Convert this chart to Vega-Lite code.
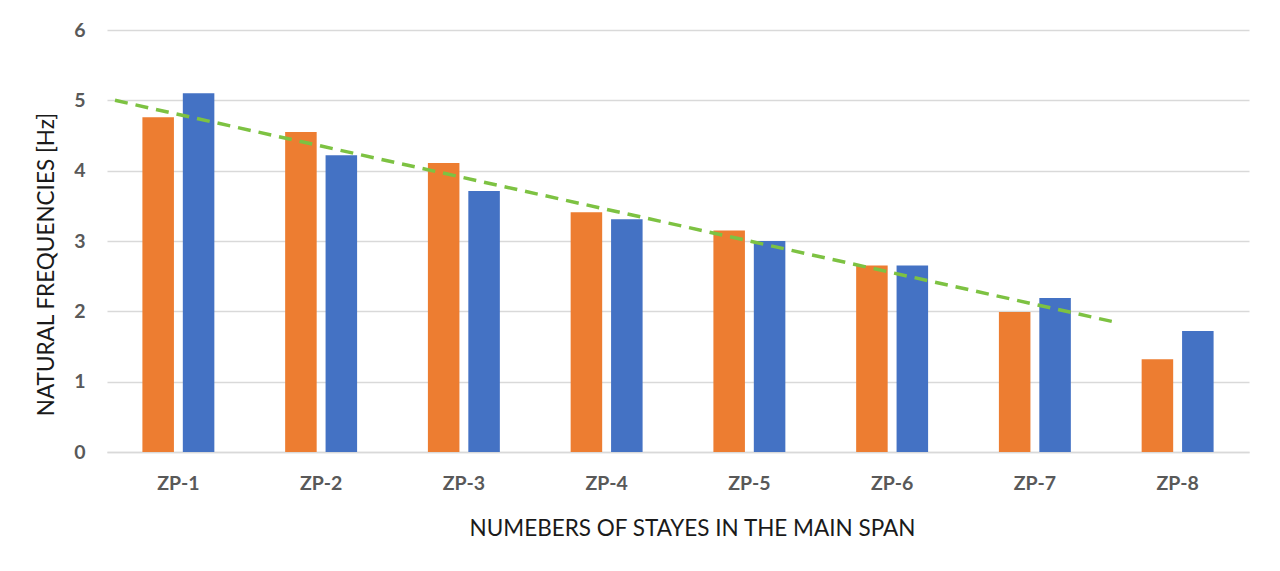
{
  "$schema": "https://vega.github.io/schema/vega-lite/v6.json",
  "width": 1142,
  "height": 422,
  "autosize": {"type": "none"},
  "padding": {"left": 107, "top": 30, "right": 31, "bottom": 119},
  "background": "white",
  "config": {
    "view": {"stroke": null},
    "font": "Lato",
    "axis": {"labelFont": "Lato", "titleFont": "Lato"}
  },
  "layer": [
    {
      "data": {
        "values": [
          {"case": "ZP-1", "series": "A", "freq": 4.76},
          {"case": "ZP-1", "series": "B", "freq": 5.10},
          {"case": "ZP-2", "series": "A", "freq": 4.55},
          {"case": "ZP-2", "series": "B", "freq": 4.22},
          {"case": "ZP-3", "series": "A", "freq": 4.11},
          {"case": "ZP-3", "series": "B", "freq": 3.71},
          {"case": "ZP-4", "series": "A", "freq": 3.41},
          {"case": "ZP-4", "series": "B", "freq": 3.31},
          {"case": "ZP-5", "series": "A", "freq": 3.15},
          {"case": "ZP-5", "series": "B", "freq": 3.00},
          {"case": "ZP-6", "series": "A", "freq": 2.65},
          {"case": "ZP-6", "series": "B", "freq": 2.65},
          {"case": "ZP-7", "series": "A", "freq": 1.99},
          {"case": "ZP-7", "series": "B", "freq": 2.19},
          {"case": "ZP-8", "series": "A", "freq": 1.32},
          {"case": "ZP-8", "series": "B", "freq": 1.72}
        ]
      },
      "mark": {"type": "bar"},
      "encoding": {
        "x": {
          "field": "case", "type": "nominal", "sort": null,
          "scale": {"paddingInner": 0.496, "paddingOuter": 0.248},
          "axis": {
            "title": "NUMEBERS OF STAYES IN THE MAIN SPAN",
            "titleFontSize": 22.5, "titleFontWeight": "normal", "titleColor": "#1a1a1a",
            "titleX": 585, "titleY": 76, "titleBaseline": "middle",
            "labelAngle": 0, "labelFontSize": 19.5, "labelFontWeight": "bold", "labelColor": "#595959",
            "labelPadding": 22, "ticks": false, "domainColor": "#D9D9D9", "domainWidth": 1.5
          }
        },
        "xOffset": {"field": "series", "type": "nominal", "scale": {"paddingInner": 0.22, "paddingOuter": 0}},
        "y": {
          "field": "freq", "type": "quantitative",
          "scale": {"domain": [0, 6], "nice": false},
          "axis": {
            "title": "NATURAL FREQUENCIES [Hz]",
            "titleFontSize": 22.5, "titleFontWeight": "normal", "titleColor": "#1a1a1a",
            "titleX": -61, "titleY": 234, "titleBaseline": "middle", "titleAngle": -90,
            "values": [0, 1, 2, 3, 4, 5, 6], "format": "d",
            "labelFontSize": 19.5, "labelFontWeight": "bold", "labelColor": "#595959",
            "labelPadding": 22, "ticks": false, "domain": false,
            "gridColor": "#D9D9D9", "gridWidth": 1.5
          }
        },
        "color": {
          "field": "series", "type": "nominal",
          "scale": {"domain": ["A", "B"], "range": ["#ED7D31", "#4472C4"]},
          "legend": null
        }
      }
    },
    {
      "data": {
        "values": [
          {"pos": 0.556, "trend": 5.0},
          {"pos": 7.554, "trend": 1.85}
        ]
      },
      "mark": {"type": "line", "color": "#7DC242", "strokeWidth": 3.5, "strokeDash": [13, 8]},
      "encoding": {
        "x": {"field": "pos", "type": "quantitative", "scale": {"domain": [0.5, 8.5], "nice": false, "zero": false}, "axis": null},
        "y": {"field": "trend", "type": "quantitative", "scale": {"domain": [0, 6], "nice": false}}
      }
    }
  ],
  "resolve": {"scale": {"x": "independent"}}
}
